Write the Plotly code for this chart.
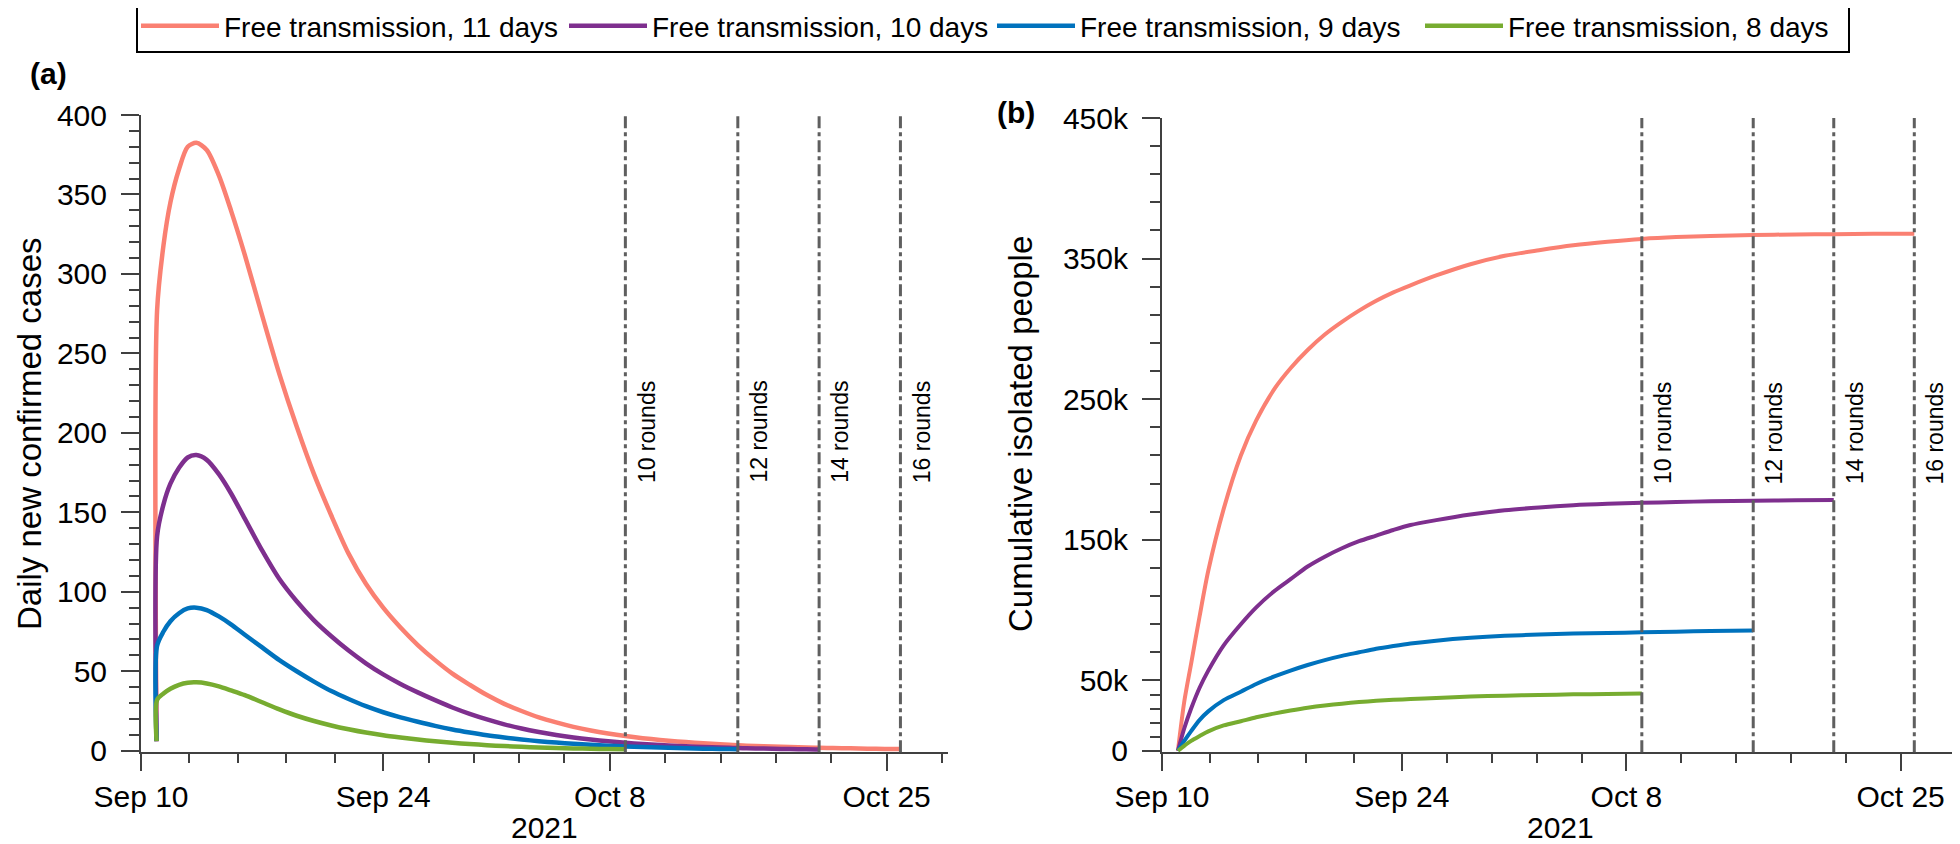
import plotly.graph_objects as go

# ---------------- data ----------------
series_names = ["Free transmission, 11 days", "Free transmission, 10 days",
                "Free transmission, 9 days", "Free transmission, 8 days"]
series_colors = ["#FA8072", "#7E2F8E", "#0072BD", "#77AC30"]

# day offsets from Sep 10, 2021
days_a = [0.9, 0.93, 1.3, 1.7, 2.2, 2.7, 3.2, 3.8, 4.5, 5.2, 6, 7, 8, 9, 10, 11, 12, 13,
          14, 15, 16, 17, 18, 19, 20, 21, 22, 23, 24, 25, 26, 27, 28, 29, 30, 31, 32, 33,
          34, 34.5, 35, 36, 37, 38, 39, 39.2, 40, 41, 42, 43, 43.9]

daily_11 = [6, 277, 318, 345, 366, 380, 382.5, 378, 362, 340, 312, 274, 237, 204, 174, 148,
            124, 105, 90, 77.5, 66.5, 57, 48.5, 41.5, 35, 29.5, 25, 21, 17.8, 15, 12.7,
            10.8, 9.2, 7.9, 6.8, 5.85, 5.05, 4.35, 3.75, 3.45, 3.2, 2.8, 2.45, 2.15, 1.9,
            1.85, 1.68, 1.48, 1.3, 1.13, 1.0]
daily_10 = [6, 135, 155, 168, 178, 184.5, 186, 183, 174, 162, 146, 126, 108, 94, 82, 72,
            63, 55, 48, 42, 36.7, 31.8, 27.2, 23.2, 19.7, 16.6, 14.0, 11.8, 9.9, 8.3, 7.0,
            5.9, 5.0, 4.2, 3.55, 3.0, 2.55, 2.15, 1.82, 1.68, 1.55, 1.32, 1.13, 0.97, 0.84,
            0.82]
daily_9 = [6, 66, 75, 81.5, 86.5, 89.5, 90, 88.5, 84.5, 79.5, 73, 65, 57, 50, 43.5, 37.5,
           32.5, 28, 24.2, 21, 18.2, 15.6, 13.3, 11.4, 9.7, 8.3, 7.05, 6.0, 5.1, 4.35, 3.7,
           3.15, 2.7, 2.3, 1.95, 1.66, 1.42, 1.21, 1.03, 0.95]
daily_8 = [6, 32, 36, 39, 41.5, 42.8, 43, 42.3, 40.5, 38, 35, 30.5, 26, 22, 18.7, 15.9,
           13.5, 11.4, 9.7, 8.3, 7.0, 5.9, 5.0, 4.2, 3.5, 2.9, 2.45, 2.05, 1.7, 1.45, 1.2,
           1.0, 0.85]

days_b = [0.93, 1.3, 1.7, 2.2, 2.7, 3.6, 4.6, 5.5, 6.6, 7.5, 8.5, 9.5, 10.5, 11.5, 12.5,
          13.5, 14.5, 16, 18, 20, 22, 24, 26, 28, 30, 32, 34.5, 37, 39.2, 41.5, 43.9]

# cumulative isolated people, thousands
cum_11 = [0, 35, 62, 96, 128, 172, 210, 235, 258, 272, 285, 296, 305, 313, 320, 326, 331,
          338, 346, 352, 356, 359.5, 362, 364, 365.3, 366.1, 366.8, 367.2, 367.4, 367.6, 367.7]
cum_10 = [0, 16, 30, 45, 57, 75, 90, 102, 114, 122, 131, 138, 144, 149, 153, 157, 160.5,
          164, 168, 171, 173, 174.6, 175.6, 176.3, 176.9, 177.4, 177.8, 178.1, 178.3]
cum_9 = [0, 7, 14, 22, 28, 36, 42, 47.5, 53, 57, 61, 64.5, 67.5, 70, 72.5, 74.5, 76.3, 78.3,
         80.3, 81.7, 82.6, 83.3, 83.8, 84.2, 84.7, 85.1, 85.6]
cum_8 = [0, 3.5, 7, 10.5, 13.8, 18, 21, 23.8, 26.6, 28.6, 30.6, 32.2, 33.5, 34.6, 35.5,
         36.2, 36.8, 37.6, 38.5, 39.2, 39.7, 40.1, 40.4, 40.7]

daily_series = [daily_11, daily_10, daily_9, daily_8]
cum_series = [cum_11, cum_10, cum_9, cum_8]

round_days = [28, 34.5, 39.2, 43.9]
round_labels = ["10 rounds", "12 rounds", "14 rounds", "16 rounds"]

x_tick_days = [0, 14, 27.1, 43.1]
x_tick_labels = ["Sep 10", "Sep 24", "Oct 8", "Oct 25"]
x_title = "2021"

ya_ticks = [0, 50, 100, 150, 200, 250, 300, 350, 400]
yb_ticks = [0, 50000, 150000, 250000, 350000, 450000]
yb_tick_labels = ["0", "50k", "150k", "250k", "350k", "450k"]
ya_title = "Daily new confirmed cases"
yb_title = "Cumulative isolated people"

# ---------------- figure ----------------
FONT = "Liberation Sans, Arial, Helvetica, sans-serif"
AX = "#404040"
W, H = 1960, 844
fig = go.Figure()

for name, col, vals in zip(series_names, series_colors, daily_series):
    fig.add_trace(go.Scatter(x=days_a[:len(vals)], y=vals, mode="lines", name=name,
                             line=dict(color=col, width=4.5, shape="spline", smoothing=0.8),
                             xaxis="x", yaxis="y", legendgroup=name))
for name, col, vals in zip(series_names, series_colors, cum_series):
    fig.add_trace(go.Scatter(x=days_b[:len(vals)], y=[v * 1000 for v in vals], mode="lines",
                             name=name, line=dict(color=col, width=4, shape="spline",
                                                  smoothing=0.8),
                             xaxis="x2", yaxis="y2", legendgroup=name, showlegend=False))

# minor tick positions: five subdivisions of each major interval
minor_x = []
for i in range(len(x_tick_days) - 1):
    a, b = x_tick_days[i], x_tick_days[i + 1]
    for k in range(1, 5):
        minor_x.append(a + (b - a) * k / 5)
last_step = (x_tick_days[-1] - x_tick_days[-2]) / 5
minor_x.append(x_tick_days[-1] + last_step)

minor_yb = [10000, 20000, 30000, 40000]
for m in range(50000, 450000, 20000):
    if m not in yb_ticks:
        minor_yb.append(m)

common_x = dict(tickmode="array", tickvals=x_tick_days, ticktext=x_tick_labels,
                showline=True, linecolor=AX, linewidth=2, ticks="outside", ticklen=17,
                tickwidth=2, tickcolor=AX, showgrid=False, zeroline=False,
                tickfont=dict(size=30, color="black", family=FONT),
                ticklabelstandoff=0, automargin=False,
                minor=dict(tickmode="array", tickvals=minor_x, ticks="outside", ticklen=9,
                           tickwidth=2, tickcolor=AX, showgrid=False))
common_y = dict(showline=True, linecolor=AX, linewidth=2, ticks="outside", ticklen=18,
                tickwidth=2, tickcolor=AX, showgrid=False, zeroline=False,
                tickfont=dict(size=30, color="black", family=FONT), ticklabelstandoff=8,
                automargin=False)

xa_dom = [133 / W, 940 / W]
xb_dom = [1154 / W, 1950 / W]
ya_dom = [1 - 744.3 / H, 1 - 107 / H]
yb_dom = [1 - 744.3 / H, 1 - 110 / H]

fig.update_layout(
    width=W, height=H,
    margin=dict(l=0, r=0, t=0, b=0, autoexpand=False),
    template="none",
    plot_bgcolor="white", paper_bgcolor="white",
    font=dict(family=FONT, color="black"),
    xaxis=dict(domain=xa_dom, range=[0, 46.65], anchor="y", **common_x),
    xaxis2=dict(domain=xb_dom, range=[0, 46.45], anchor="y2", **common_x),
    yaxis=dict(domain=ya_dom, range=[-1.0, 400], anchor="x",
               tickmode="array", tickvals=ya_ticks,
               minor=dict(dtick=10, tick0=0, ticks="outside", ticklen=10, tickwidth=2,
                          tickcolor=AX, showgrid=False),
               **common_y),
    yaxis2=dict(domain=yb_dom, range=[-1100, 450000], anchor="x2",
                tickmode="array", tickvals=yb_ticks, ticktext=yb_tick_labels,
                minor=dict(tickmode="array", tickvals=minor_yb, ticks="outside", ticklen=10,
                           tickwidth=2, tickcolor=AX, showgrid=False),
                **common_y),
    legend=dict(orientation="h", x=128 / W, xanchor="left", y=1 + 9 / H, yref="paper",
                yanchor="top", bordercolor="black", borderwidth=2, bgcolor="white",
                font=dict(size=28, color="black", family=FONT),
                entrywidth=335, entrywidthmode="pixels", itemwidth=78),
    showlegend=True,
)

# vertical round markers and their labels on both panels
for xr, yr in [("x", "y"), ("x2", "y2")]:
    for d, lab in zip(round_days, round_labels):
        fig.add_shape(type="line", xref=xr, yref=yr + " domain", x0=d, x1=d, y0=0, y1=1,
                      line=dict(color="#5f5f5f", width=3, dash="12px,4px,4px,4px"))
        fig.add_annotation(xref=xr, yref=yr + " domain", x=d, y=0.503, xshift=21,
                           text=lab, textangle=-90, showarrow=False,
                           font=dict(size=23, color="black", family=FONT),
                           xanchor="center", yanchor="middle")

# axis titles
for dom in (xa_dom, xb_dom):
    fig.add_annotation(xref="paper", yref="paper", x=(dom[0] + dom[1]) / 2, y=1 - 819 / H,
                       text=x_title, showarrow=False,
                       font=dict(size=30, color="black", family=FONT),
                       xanchor="center", yanchor="middle")
fig.add_annotation(xref="paper", yref="paper", x=21 / W, y=1 - 426 / H, text=ya_title,
                   textangle=-90, showarrow=False,
                   font=dict(size=33, color="black", family=FONT),
                   xanchor="center", yanchor="middle")
fig.add_annotation(xref="paper", yref="paper", x=1012 / W, y=1 - 426 / H, text=yb_title,
                   textangle=-90, showarrow=False,
                   font=dict(size=33, color="black", family=FONT),
                   xanchor="center", yanchor="middle")

fig.add_annotation(xref="paper", yref="paper", x=40 / W, y=1 - 66 / H, text="<b>(a)</b>",
                   showarrow=False, font=dict(size=30, color="black", family=FONT),
                   xanchor="center", yanchor="middle")
fig.add_annotation(xref="paper", yref="paper", x=1008 / W, y=1 - 105 / H,
                   text="<b>(b)</b>", showarrow=False,
                   font=dict(size=30, color="black", family=FONT),
                   xanchor="center", yanchor="middle")

fig.write_html("out.html")
